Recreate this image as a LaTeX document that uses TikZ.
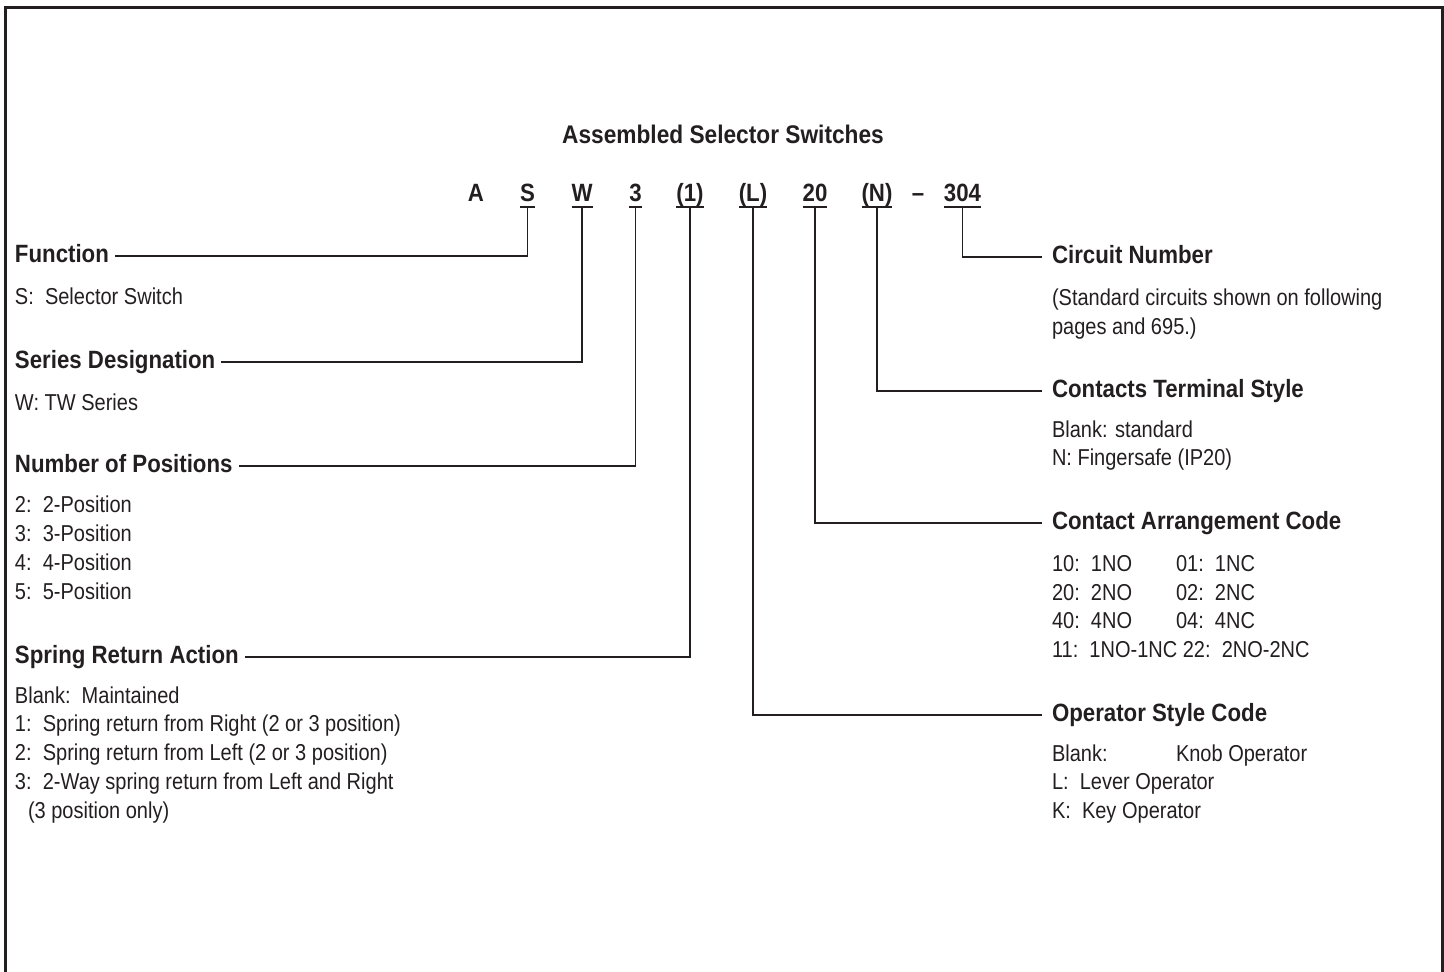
\documentclass[tikz,border=0pt]{standalone}
\usepackage{fontspec}
\setmainfont{Liberation Sans}
\newfontfamily\bodyfont[FakeStretch=0.87]{Liberation Sans}
\newfontfamily\headfont[FakeStretch=0.89]{Liberation Sans}
\definecolor{ink}{HTML}{231F20}
\begin{document}
\begin{tikzpicture}[x=1pt,y=-1pt,
  every node/.style={inner sep=0pt, outer sep=0pt, text=ink},
  body/.style={anchor=base west, font=\bodyfont\fontsize{23}{28}\selectfont},
  head/.style={anchor=base west, font=\headfont\bfseries\fontsize{25}{30}\selectfont, text height=18pt, text depth=6pt},
  codech/.style={anchor=base, font=\headfont\bfseries\fontsize{25}{30}\selectfont, text depth=6pt},
  uline/.style={draw=ink, line width=2pt},
  conn/.style={draw=ink, line width=1.3pt},
  frame/.style={draw=ink, line width=3pt}]
\useasboundingbox (0,0) rectangle (1444,972);
\draw[frame] (5,7) rectangle (1442,1000);

% title and code
\node[anchor=base, font=\headfont\bfseries\fontsize{25.5}{30}\selectfont] (title) at (723,143) {Assembled Selector Switches};
\node[codech] (cA) at (476,201) {A};
\node[codech] (cS) at (527.5,201) {S};
\node[codech] (cW) at (582,201) {W};
\node[codech] (c3) at (635.5,201) {3};
\node[codech] (c1) at (690,201) {(1)};
\node[codech] (cL) at (753,201) {(L)};
\node[codech] (c20) at (815,201) {20};
\node[codech] (cN) at (877,201) {(N)};
\node[codech] (cdash) at (918,201) {\char"2013};
\node[codech] (c304) at (962.5,201) {304};
\foreach \n in {cS,cW,c3,c1,cL,c20,cN,c304}
  \draw[uline] (\n.south west) -- (\n.south east);

% left headings
\node[head] (hFun) at (15,262) {Function};
\node[head] (hSer) at (15,368) {Series Designation};
\node[head] (hPos) at (15,472) {Number of Positions};
\node[head] (hSpr) at (15,663) {Spring Return Action};
% right headings
\node[head] (hCir) at (1052,263) {Circuit Number};
\node[head] (hTer) at (1052,397) {Contacts Terminal Style};
\node[head] (hArr) at (1052,529) {Contact Arrangement Code};
\node[head] (hOp)  at (1052,721) {Operator Style Code};

% connectors
\draw[conn] (cS.south) |- ([xshift=6pt]hFun.east);
\draw[conn] (cW.south) |- ([xshift=6pt]hSer.east);
\draw[conn] (c3.south) |- ([xshift=6pt]hPos.east);
\draw[conn] (c1.south) |- ([xshift=6pt]hSpr.east);
\draw[conn] (c304.south) |- ([xshift=-10pt]hCir.west);
\draw[conn] (cN.south) |- ([xshift=-10pt]hTer.west);
\draw[conn] (c20.south) |- ([xshift=-10pt]hArr.west);
\draw[conn] (cL.south) |- ([xshift=-10pt]hOp.west);

% left bodies
\node[body] (bFun) at (15,304) {S:\ \ Selector Switch};
\node[body] (bSer) at (15,410) {W: TW Series};
\node[body] (bPos1) at (15,512) {2:\ \ 2-Position};
\node[body] (bPos2) at (15,541) {3:\ \ 3-Position};
\node[body] (bPos3) at (15,570) {4:\ \ 4-Position};
\node[body] (bPos4) at (15,599) {5:\ \ 5-Position};
\node[body] (bSpr1) at (15,703) {Blank:\ \ Maintained};
\node[body] (bSpr2) at (15,731) {1:\ \ Spring return from Right (2 or 3 position)};
\node[body] (bSpr3) at (15,760) {2:\ \ Spring return from Left (2 or 3 position)};
\node[body] (bSpr4) at (15,789) {3:\ \ 2-Way spring return from Left and Right};
\node[body] (bSpr5) at (28,818) {(3 position only)};

% right bodies
\node[body] (bCir1) at (1052,305) {(Standard circuits shown on following};
\node[body] (bCir2) at (1052,334) {pages and 695.)};
\node[body] (bTer1) at (1052,437) {Blank: standard};
\node[body] (bTer2) at (1052,465) {N: Fingersafe (IP20)};
\node[body] (bArr1a) at (1052,571) {10:\ \ 1NO};
\node[body] (bArr1b) at (1176,571) {01:\ \ 1NC};
\node[body] (bArr2a) at (1052,600) {20:\ \ 2NO};
\node[body] (bArr2b) at (1176,600) {02:\ \ 2NC};
\node[body] (bArr3a) at (1052,628) {40:\ \ 4NO};
\node[body] (bArr3b) at (1176,628) {04:\ \ 4NC};
\node[body] (bArr4) at (1052,657) {11:\ \ 1NO-1NC 22:\ \ 2NO-2NC};
\node[body] (bOp1a) at (1052,761) {Blank:};
\node[body] (bOp1b) at (1176,761) {Knob Operator};
\node[body] (bOp2) at (1052,789) {L:\ \ Lever Operator};
\node[body] (bOp3) at (1052,818) {K:\ \ Key Operator};
\end{tikzpicture}
\end{document}
